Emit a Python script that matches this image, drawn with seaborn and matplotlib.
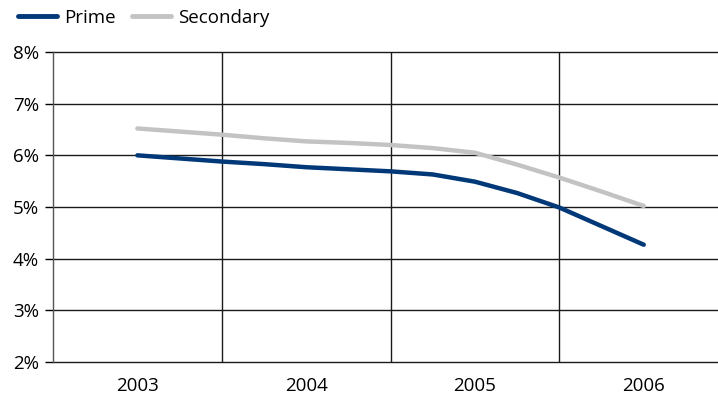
import matplotlib
matplotlib.use("Agg")
import matplotlib.pyplot as plt
import seaborn as sns
import pandas as pd
from matplotlib.ticker import FixedLocator, FuncFormatter

# Quarterly observations, 2003 Q1 through 2006 Q1 (percent)
quarters = [2003.00, 2003.25, 2003.50, 2003.75,
            2004.00, 2004.25, 2004.50, 2004.75,
            2005.00, 2005.25, 2005.50, 2005.75,
            2006.00]
prime = [6.00, 5.94, 5.88, 5.83,
         5.77, 5.73, 5.69, 5.63,
         5.49, 5.27, 4.99, 4.63,
         4.27]
secondary = [6.52, 6.46, 6.40, 6.33,
             6.27, 6.24, 6.20, 6.14,
             6.05, 5.82, 5.57, 5.30,
             5.02]
year_labels = ["2003", "2004", "2005", "2006"]
y_ticks = [2, 3, 4, 5, 6, 7, 8]

df = pd.concat([
    pd.DataFrame({"quarter": quarters, "yield": prime, "series": "Prime"}),
    pd.DataFrame({"quarter": quarters, "yield": secondary, "series": "Secondary"}),
])

sns.set_style("white")
plt.rcParams["font.family"] = ["Open Sans", "DejaVu Sans"]

FS = 13.5
fig = plt.figure(figsize=(7.18, 4.03), dpi=100)
ax = fig.add_axes([53 / 718, 1 - 362 / 403, 1 - 53 / 718, 310 / 403])

sns.lineplot(data=df, x="quarter", y="yield", hue="series",
             palette={"Prime": "#003878", "Secondary": "#c3c3c3"},
             linewidth=3.2, ax=ax, legend=False, zorder=3)
for line in ax.lines:
    line.set_solid_capstyle("round")
    line.set_solid_joinstyle("round")

ax.set_xlim(2002.5, 2006.44)
ax.set_ylim(2, 8)

# horizontal grid at each percent
ax.yaxis.set_major_locator(FixedLocator(y_ticks))
ax.yaxis.set_major_formatter(FuncFormatter(lambda v, p: f"{v:.0f}%"))
for v in y_ticks:
    ax.axhline(v, color="#1a1a1a", linewidth=1.0, zorder=1, clip_on=False)

# vertical separators between years
for xv in [2003.5, 2004.5, 2005.5]:
    ax.axvline(xv, color="#1a1a1a", linewidth=1.0, zorder=1)

ax.set_xticks([2003, 2004, 2005, 2006])
ax.set_xticklabels(year_labels)
ax.tick_params(axis="x", length=0, pad=11, labelsize=FS, colors="#000000")
ax.tick_params(axis="y", length=6, width=1, pad=4, labelsize=FS,
               colors="#000000", direction="out", left=True)
ax.set_xlabel("")
ax.set_ylabel("")

for side in ["top", "right", "bottom"]:
    ax.spines[side].set_visible(False)
ax.spines["left"].set_color("#555555")
ax.spines["left"].set_linewidth(1.0)
ax.spines["left"].set_zorder(2)

# legend across the top
handles = [plt.Line2D([], [], color="#003878", linewidth=3.5),
           plt.Line2D([], [], color="#c3c3c3", linewidth=3.5)]
fig.legend(handles, ["Prime", "Secondary"], loc="center left",
           bbox_to_anchor=(18 / 718, 1 - 18 / 403), ncol=2, frameon=False,
           fontsize=FS, handlelength=2.1, handletextpad=0.37,
           columnspacing=0.85, borderpad=0, borderaxespad=0,
           labelcolor="#000000")

fig.savefig("out.png", dpi=100)
